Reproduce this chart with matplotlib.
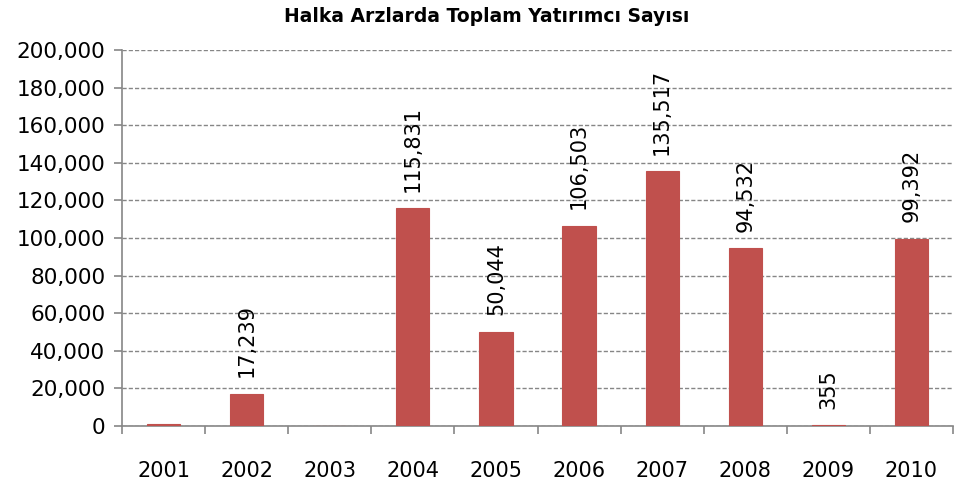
import matplotlib
matplotlib.use("Agg")
import matplotlib.pyplot as plt
import numpy as np

years = ["2001", "2002", "2003", "2004", "2005", "2006", "2007", "2008", "2009", "2010"]
values = [900, 17239, 0, 115831, 50044, 106503, 135517, 94532, 355, 99392]
labels = ["", "17,239", "", "115,831", "50,044", "106,503", "135,517", "94,532", "355", "99,392"]
yticks = list(range(0, 200001, 20000))

plt.rcParams['font.family'] = ['DejaVu Sans']

fig = plt.figure(figsize=(9.55, 4.88), dpi=100)
ax = fig.add_axes([122/955, 62/488, (953-122)/955, (426-50)/488])

x = np.arange(len(years))
ax.bar(x, values, width=0.4, color="#C0504D", edgecolor="#C0504D", linewidth=0.8, zorder=3)
ax.set_xlim(-0.5, len(years) - 0.5)
ax.set_ylim(0, 200000)
ax.set_yticks(yticks)
ax.set_yticklabels([f"{v:,}" for v in yticks], fontsize=15.5)
ax.yaxis.grid(True, linestyle=(0, (3, 1.5)), color="#868686", linewidth=1, zorder=0)
ax.set_xticks(x)
ax.set_xticklabels(years, fontsize=15)
ax.tick_params(axis='x', length=0, pad=25)
ax.set_xticks(np.arange(-0.5, len(years), 1), minor=True)
ax.tick_params(axis='x', which='minor', length=6, color="#868686", width=1.2)
ax.tick_params(axis='y', length=6, color="#868686", width=1.2, direction='out', pad=6)
for s in ['top', 'right']:
    ax.spines[s].set_visible(False)
for s in ['left', 'bottom']:
    ax.spines[s].set_color("#868686")
    ax.spines[s].set_linewidth(1.2)

for xi, v, lab in zip(x, values, labels):
    if lab:
        ax.annotate(lab, (xi, v), xytext=(0, 12), textcoords='offset points',
                    rotation=90, ha='center', va='bottom', fontsize=15)

fig.text(487/955, 1 - 16/488, "Halka Arzlarda Toplam Yatırımcı Sayısı", ha='center', va='center',
         fontsize=13.5, fontweight='bold')

fig.savefig("out.png", dpi=100)
